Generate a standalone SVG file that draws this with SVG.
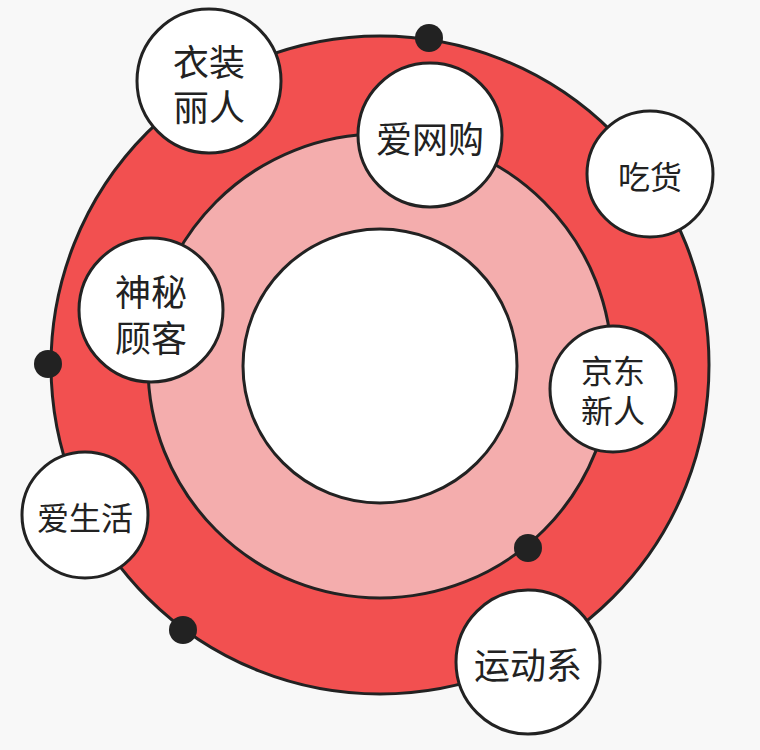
<svg xmlns="http://www.w3.org/2000/svg" width="760" height="750" viewBox="0 0 760 750">
<style>
.ring{stroke:#222;stroke-width:3}
.node circle{fill:#fff;stroke:#222;stroke-width:3}
.node text{font-family:"Noto Sans CJK SC","Noto Sans",sans-serif;fill:#222;text-anchor:middle;dominant-baseline:central}
.big{font-size:36px}
.sm{font-size:32px}
.dot{fill:#222}
</style>
<rect width="760" height="750" fill="#f8f8f8"/>
<g id="rings">
<circle class="ring" cx="380" cy="365" r="329" fill="#f25050"/>
<circle class="ring" cx="380" cy="366" r="232" fill="#f4adad"/>
<circle class="ring" cx="380" cy="366" r="137" fill="#ffffff"/>
</g>
<g id="connectors">
<circle class="dot" cx="429" cy="38" r="14"/>
<circle class="dot" cx="48" cy="364" r="14"/>
<circle class="dot" cx="183" cy="630" r="14"/>
<circle class="dot" cx="528" cy="548" r="14"/>
</g>
<g id="n-yizhuang" class="node"><circle cx="209" cy="81" r="72"/><text class="big" x="209" y="60">衣装</text><text class="big" x="209" y="105">丽人</text></g>
<g id="n-aiwanggou" class="node"><circle cx="430" cy="135" r="72"/><text class="big" x="430" y="137">爱网购</text></g>
<g id="n-chihuo" class="node"><circle cx="650" cy="174" r="63"/><text class="sm" x="650" y="175">吃货</text></g>
<g id="n-shenmi" class="node"><circle cx="151" cy="310" r="72"/><text class="big" x="151" y="290">神秘</text><text class="big" x="151" y="336">顾客</text></g>
<g id="n-jingdong" class="node"><circle cx="613" cy="389" r="63"/><text class="sm" x="613" y="369">京东</text><text class="sm" x="613" y="409">新人</text></g>
<g id="n-aishenghuo" class="node"><circle cx="85" cy="515" r="63"/><text class="sm" x="85" y="516">爱生活</text></g>
<g id="n-yundong" class="node"><circle cx="528" cy="662" r="72"/><text class="big" x="528" y="663">运动系</text></g>
</svg>
